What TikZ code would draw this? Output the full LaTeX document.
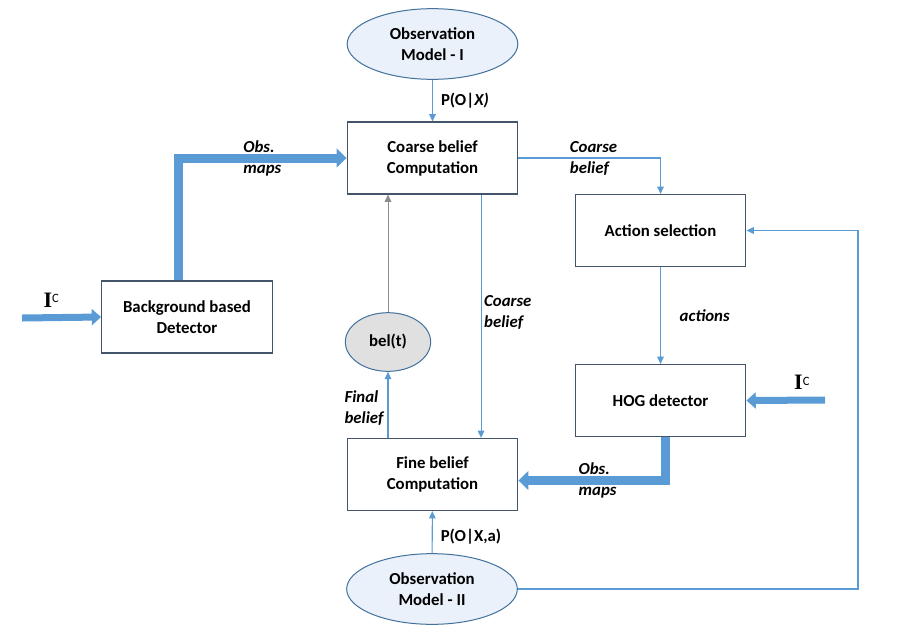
\documentclass[tikz,border=0pt]{standalone}
\usepackage{fontspec}
\setmainfont{Carlito}
\newfontfamily\serifI{Liberation Serif}
\usetikzlibrary{shapes.geometric,arrows.meta}

\definecolor{lineblue}{HTML}{5B9BD5}
\definecolor{edgeblue}{HTML}{41719C}
\definecolor{boxline}{HTML}{44546A}
\definecolor{ellfill}{HTML}{EAF1FA}
\definecolor{belfill}{HTML}{E0E0E0}
\definecolor{backgray}{HTML}{8C8C8C}

\newcommand\boxfont{\fontsize{12.6}{15.8}\selectfont\bfseries}
\newcommand\tagfont{\fontsize{12.6}{15.8}\selectfont\bfseries\itshape}
\newcommand\imgin{{\serifI\bfseries\fontsize{16.5}{16.5}\selectfont I}\textsuperscript{\fontsize{9.5}{9.5}\selectfont C}}

\begin{document}
\begin{tikzpicture}[x=0.75pt,y=-0.75pt,>={Triangle[length=5.5pt,width=5pt]},
  main box/.style={rectangle,draw=boxline,line width=0.9pt,fill=white,minimum width=128pt,minimum height=54pt,align=center,font=\boxfont},
  model node/.style={ellipse,draw=edgeblue,line width=0.75pt,fill=ellfill,minimum width=128pt,minimum height=53pt,align=center,font=\boxfont,inner sep=1pt},
  link/.style={->,draw=lineblue,line width=0.8pt},
  fat link/.style={draw=lineblue,line width=6.75pt,-{Triangle[length=7.5pt,width=14pt]}},
  in link/.style={draw=lineblue,line width=5.25pt,-{Triangle[length=7pt,width=12pt]}},
  tag/.style={font=\tagfont,align=left,inner sep=2pt},
  prob/.style={font=\boxfont,inner sep=2pt}]

 \useasboundingbox (0,0) rectangle (898,643);

 \node[model node] (obsI) at (432.5,44) {Observation\\Model - I};
 \node[main box] (coarse) at (432.5,158) {Coarse belief\\Computation};
 \node[main box] (action) at (660.5,230.5) {Action selection};
 \node[main box] (background) at (187,317) {Background based\\Detector};
 \node[ellipse,draw=edgeblue,line width=0.75pt,fill=belfill,minimum width=64pt,minimum height=44pt,font=\boxfont] (bel) at (388,342) {bel(t)};
 \node[main box] (hog) at (660.5,400.5) {HOG detector};
 \node[main box] (fine) at (432.5,474.5) {Fine belief\\Computation};
 \node[model node] (obsII) at (432,589) {Observation\\Model - II};

 \coordinate (inL) at (22,318);
 \coordinate (inR) at (825,400);
 \coordinate (loopR) at (858,589);

 % thin connectors
 \draw[link] (obsI) -- node[prob,pos=0.5,anchor=west,xshift=4pt] (pox) {P(O|\textit{X)}} (coarse);
 \draw[link] (coarse.east) -| node[tag,pos=0.17,anchor=west] (cb1) {Coarse\\belief} (action.north);
 \draw[link] ([xshift=36.4pt]coarse.south) -- node[tag,pos=0.484,anchor=west] (cb2) {Coarse\\belief} ([xshift=36.4pt]fine.north);
 \draw[link] (action) -- node[tag,pos=0.5,anchor=west,xshift=12pt] (act) {actions} (hog);
 \draw[link] (bel |- fine.north) -- node[tag,pos=0.45,anchor=east,xshift=-1pt] (fb) {Final\\belief} (bel);
 \draw[->,draw=backgray,line width=0.7pt] (bel) -- (bel |- coarse.south);
 \draw[link] (obsII) -- node[prob,pos=0.4,anchor=west,xshift=4pt] (poxa) {P(O|X,a)} (fine);
 \draw[link] (obsII.east) -- (loopR) |- (action.east);

 % thick connectors
 \draw[in link] (inL) -- node[pos=0.375,above=5pt,inner sep=0pt] (icl) {\imgin} (background.west);
 \draw[fat link] ([xshift=-6.75pt]background.north) |- node[tag,pos=0.75] (om1) {Obs.\\maps} (coarse.west);
 \draw[in link] (inR) -- node[pos=0.29,above=5pt,inner sep=0pt] (icr) {\imgin} (hog.east);
 \draw[fat link] ([xshift=3.4pt]hog.south) |- node[tag,pos=0.73] (om2) {Obs.\\maps} ([yshift=-4.5pt]fine.east);

\end{tikzpicture}
\end{document}
